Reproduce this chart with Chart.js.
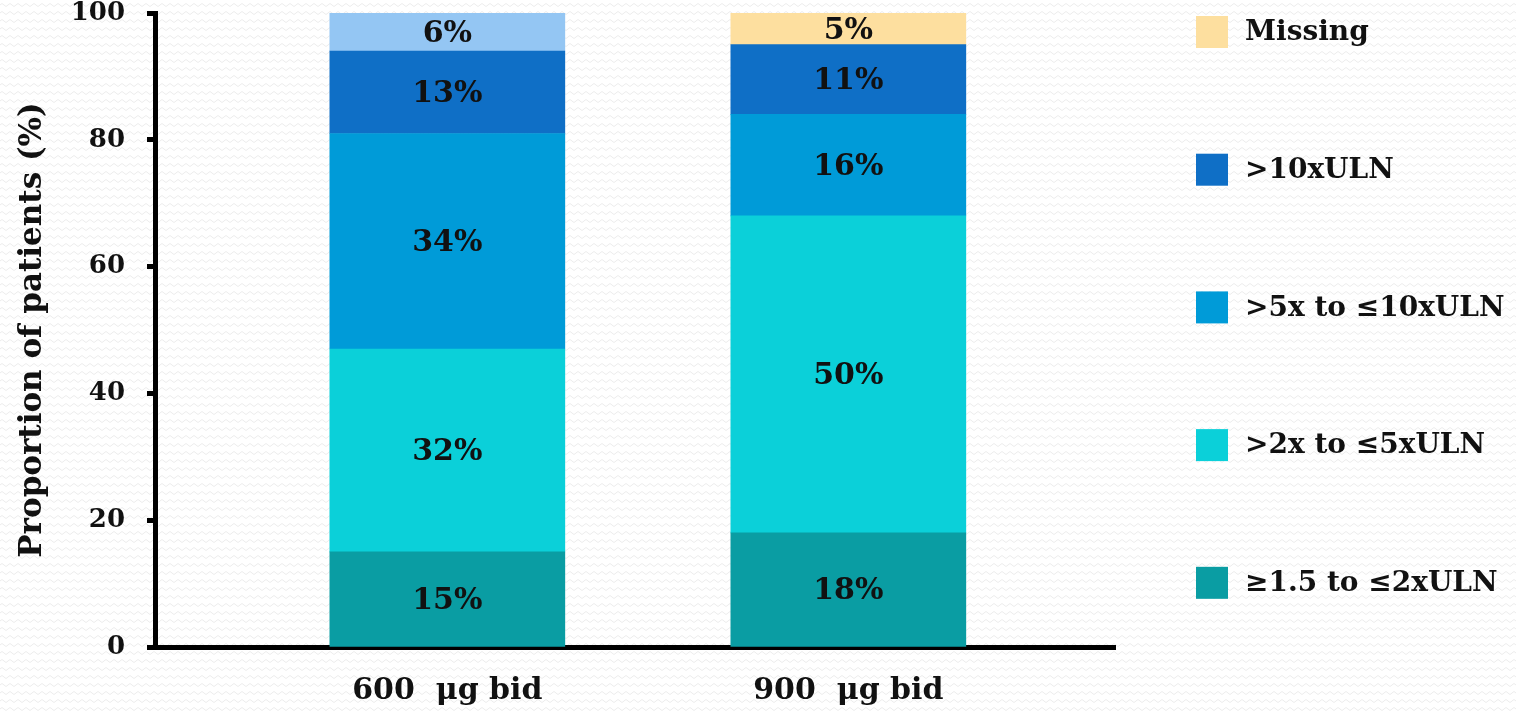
<!DOCTYPE html>
<html>
<head>
<meta charset="utf-8">
<script src="https://cdn.jsdelivr.net/npm/chart.js@4.4.1/dist/chart.umd.min.js"></script>
<style>
  html, body { margin: 0; padding: 0; }
  body {
    width: 1516px; height: 711px; overflow: hidden;
    background-color: #ffffff;
    background-image: url("data:image/svg+xml,%3Csvg xmlns='http://www.w3.org/2000/svg' width='8' height='8'%3E%3Cpath d='M0 5 Q2 2 4 5 T8 5' fill='none' stroke='%23ececec' stroke-width='1'/%3E%3C/svg%3E");
  }
  #wrap { position: absolute; left: 0; top: 0; width: 1516px; height: 711px; }
</style>
</head>
<body>
<div id="wrap"><canvas id="c" width="1516" height="711"></canvas></div>
<script>
// Dose groups along the x axis
const categories = ['600  \u03bcg bid', '900  \u03bcg bid'];

// Share of patients (%) in each ALT category, per dose group
const series = ['\u22651.5 to \u22642xULN', '>2x to \u22645xULN', '>5x to \u226410xULN', '>10xULN', 'Missing'];
const lowRange   = [15, 18];
const midRange   = [32, 50];
const highRange  = [34, 16];
const above10x   = [13, 11];
const missing    = [6, 5];

const yTicks = [0, 20, 40, 60, 80, 100];

const FONT = "'DejaVu Serif', 'Liberation Serif', serif";

const colors = {
  low: '#0A9DA3',
  mid: '#0BD0D9',
  high: '#009BD8',
  above: '#0F6FC6',
  missingA: '#94C6F3',
  missingB: '#FDDF9F'
};

const toPoints = arr => arr.map((v, i) => ({ x: i, y: v }));

const datasets = [
  { label: series[0], data: toPoints(lowRange),  backgroundColor: colors.low,   legendColor: colors.low },
  { label: series[1], data: toPoints(midRange),  backgroundColor: colors.mid,   legendColor: colors.mid },
  { label: series[2], data: toPoints(highRange), backgroundColor: colors.high,  legendColor: colors.high },
  { label: series[3], data: toPoints(above10x),  backgroundColor: colors.above, legendColor: colors.above },
  { label: series[4], data: toPoints(missing),   backgroundColor: [colors.missingA, colors.missingB], legendColor: colors.missingB }
].map(d => Object.assign(d, { borderWidth: 0, barThickness: 235 }));

// Percentage labels in the middle of each stacked segment
const segmentLabels = {
  id: 'segmentLabels',
  afterDatasetsDraw(chart) {
    const ctx = chart.ctx;
    ctx.save();
    ctx.font = "bold 30px " + FONT;
    ctx.fillStyle = '#111';
    ctx.textAlign = 'center';
    ctx.textBaseline = 'middle';
    chart.data.datasets.forEach((ds, di) => {
      const meta = chart.getDatasetMeta(di);
      meta.data.forEach((bar, i) => {
        const v = ds.data[i].y;
        ctx.fillText(v + '%', bar.x, (bar.y + bar.base) / 2 + 2);
      });
    });
    ctx.restore();
  }
};

// Legend at the right, top entry = last stacked series
const sideLegend = {
  id: 'sideLegend',
  afterDraw(chart) {
    const ctx = chart.ctx;
    const area = chart.chartArea;
    const x0 = area.right + 81;
    const y0 = area.top + 19;
    const step = (area.bottom - area.top) * 0.2172;
    const items = chart.data.datasets.slice().reverse();
    ctx.save();
    ctx.font = "bold 28px " + FONT;
    ctx.textBaseline = 'middle';
    ctx.textAlign = 'left';
    items.forEach((ds, k) => {
      const cy = y0 + k * step;
      ctx.fillStyle = ds.legendColor;
      ctx.fillRect(x0, cy - 16, 32, 32);
      ctx.fillStyle = '#111';
      ctx.fillText(ds.label, x0 + 49, cy + 1);
    });
    ctx.restore();
  }
};

const noScalePadding = s => { s.paddingTop = 0; s.paddingBottom = 0; s.paddingLeft = 0; s.paddingRight = 0; };

new Chart(document.getElementById('c'), {
  type: 'bar',
  data: { datasets },
  plugins: [segmentLabels, sideLegend],
  options: {
    responsive: false,
    animation: false,
    events: [],
    layout: { padding: { left: 0, top: 13, right: 401, bottom: 0 } },
    plugins: { legend: { display: false }, tooltip: { enabled: false } },
    scales: {
      x: {
        type: 'linear',
        stacked: true,
        offset: false,
        min: -0.729,
        max: 1.665,
        afterBuildTicks: s => { s.ticks = categories.map((_, i) => ({ value: i })); },
        afterFit: s => { s.height = 64; noScalePadding(s); },
        grid: { display: true, drawOnChartArea: false, drawTicks: false },
        border: { display: true, color: '#000', width: 5 },
        ticks: {
          color: '#111',
          padding: 26,
          maxRotation: 0,
          autoSkip: false,
          font: { family: FONT, size: 30, weight: 'bold' },
          callback: v => categories[v]
        }
      },
      y: {
        stacked: true,
        min: 0,
        max: 100,
        afterBuildTicks: s => { s.ticks = yTicks.map(v => ({ value: v })); },
        afterFit: s => { s.width = 155; noScalePadding(s); },
        grid: { drawOnChartArea: false, drawTicks: true, tickLength: 8, tickWidth: 5, tickColor: '#000' },
        border: { display: true, color: '#000', width: 5 },
        ticks: {
          color: '#111',
          padding: 22,
          font: { family: FONT, size: 26, weight: 'bold' }
        },
        title: {
          display: true,
          text: 'Proportion of patients (%)',
          color: '#111',
          padding: { top: 14, bottom: 0 },
          font: { family: FONT, size: 31, weight: 'bold' }
        }
      }
    }
  }
});
</script>
</body>
</html>
